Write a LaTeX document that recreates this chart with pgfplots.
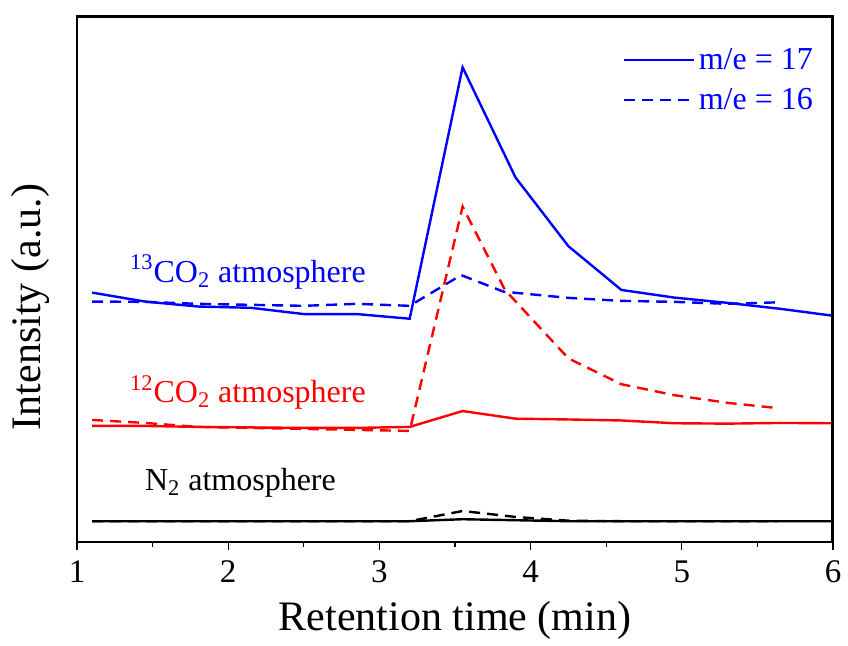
\documentclass[border=0pt]{standalone}
\usepackage{pgfplots}
\pgfplotsset{compat=1.18}
\usepackage{fontspec}
\setmainfont{Liberation Serif}
\begin{document}
\begin{tikzpicture}
\begin{axis}[
  scale only axis,
  width=378pt, height=263pt,
  xmin=1, xmax=6, ymin=0, ymax=530,
  xtick={1,2,3,4,5,6},
  minor xtick={1.5,2.5,3.5,4.5,5.5},
  xtick pos=bottom,
  ytick=\empty,
  minor ytick={20.47,40.94,...,520},
  tick align=outside,
  major tick length=4pt,
  minor tick length=2.5pt,
  /pgf/number format/assume math mode=true,
  tick label style={font=\fontsize{16.5}{19}\selectfont},
  xticklabel style={yshift=-2pt},
  xlabel={Retention time (min)},
  ylabel={Intensity (a.u.)},
  label style={font=\fontsize{21}{25}\selectfont},
  xlabel style={yshift=-2pt},
  ylabel style={yshift=6pt, xshift=-14pt},
  axis line style={line width=1pt, draw=black},
  every tick/.style={black, line width=0.6pt},
  legend style={draw=none, fill=none, text=blue, font=\fontsize{16}{20}\selectfont,
    at={(0.987,0.955)}, anchor=north east, row sep=4pt,
    /tikz/every even column/.append style={column sep=4pt}},
  legend cell align=left,
  legend image code/.code={\draw[#1] (0pt,0pt) -- (35pt,0pt);},
  after end axis/.code={
    \fill[black] ([yshift=-1.2pt]rel axis cs:0,1) rectangle (rel axis cs:1,1);
    \fill[black] ([xshift=-1.2pt]rel axis cs:1,0) rectangle (rel axis cs:1,1);
  },
]
\addlegendimage{blue, line width=1.2pt}
\addlegendentry{m/e = 17}
\addlegendimage{blue, line width=1.2pt, dash pattern=on 5.5pt off 3.5pt}
\addlegendentry{m/e = 16}

% 13CO2, m/e = 17
\addplot[blue, line width=1.2pt, forget plot] coordinates {
(1.1,251.3) (1.45,242.3) (1.8,237.3) (2.15,236) (2.5,229.7) (2.85,229.7) (3.2,225)
(3.55,478.3) (3.9,367.3) (4.25,298) (4.6,254) (4.95,246.3) (5.3,241) (5.65,235) (6.0,228)};
% 13CO2, m/e = 16
\addplot[blue, line width=1.2pt, dash pattern=on 5.5pt off 3.5pt, forget plot] coordinates {
(1.1,242.3) (1.45,242) (1.8,240) (2.15,239) (2.5,238) (2.85,240) (3.2,238)
(3.45,260.7) (3.54,269) (3.82,252.3) (4.25,246) (4.6,243) (4.95,242) (5.3,240) (5.63,241.5)};
% 12CO2, m/e = 17
\addplot[red, line width=1.2pt, forget plot] coordinates {
(1.1,117) (1.45,117) (1.8,116) (2.15,115.5) (2.5,115) (2.85,115) (3.2,116)
(3.55,132) (3.9,124.3) (4.25,123.5) (4.6,122.5) (4.95,119.7) (5.3,119.3) (5.65,120) (6.0,119.7)};
% 12CO2, m/e = 16
\addplot[red, line width=1.2pt, dash pattern=on 5.5pt off 3.5pt, forget plot] coordinates {
(1.1,123) (1.45,120) (1.8,116) (2.15,115) (2.5,114) (2.85,113) (3.2,112)
(3.55,338) (3.83,254) (4.25,185) (4.6,159) (4.95,148) (5.3,140.3) (5.63,135)};
% N2, m/e = 17
\addplot[black, line width=1.2pt, forget plot] coordinates {
(1.1,21) (1.45,21) (1.8,21) (2.15,21) (2.5,21) (2.85,21) (3.2,21)
(3.55,23) (3.9,22) (4.25,21) (4.6,21) (4.95,21) (5.3,21) (5.65,21) (6.0,21)};
% N2, m/e = 16
\addplot[black, line width=1.2pt, dash pattern=on 5.5pt off 3.5pt, forget plot] coordinates {
(1.1,21) (1.45,21) (1.8,21) (2.15,21) (2.5,21) (2.85,21) (3.2,21)
(3.55,31.3) (3.9,25.3) (4.25,21.5) (4.6,21) (4.95,21) (5.3,21) (5.63,21)};

\node[anchor=base west, blue, font=\fontsize{16}{20}\selectfont, inner sep=0pt] at (axis cs:1.349,262)
  {\textsuperscript{13}CO\textsubscript{2} atmosphere};
\node[anchor=base west, red, font=\fontsize{16}{20}\selectfont, inner sep=0pt] at (axis cs:1.349,140.3)
  {\textsuperscript{12}CO\textsubscript{2} atmosphere};
\node[anchor=base west, black, font=\fontsize{16}{20}\selectfont, inner sep=0pt] at (axis cs:1.447,52)
  {N\textsubscript{2} atmosphere};
\end{axis}
\path ([xshift=-38.5pt,yshift=-50pt]current axis.south west) rectangle ([xshift=6pt,yshift=8pt]current axis.north east);
\end{tikzpicture}
\end{document}
